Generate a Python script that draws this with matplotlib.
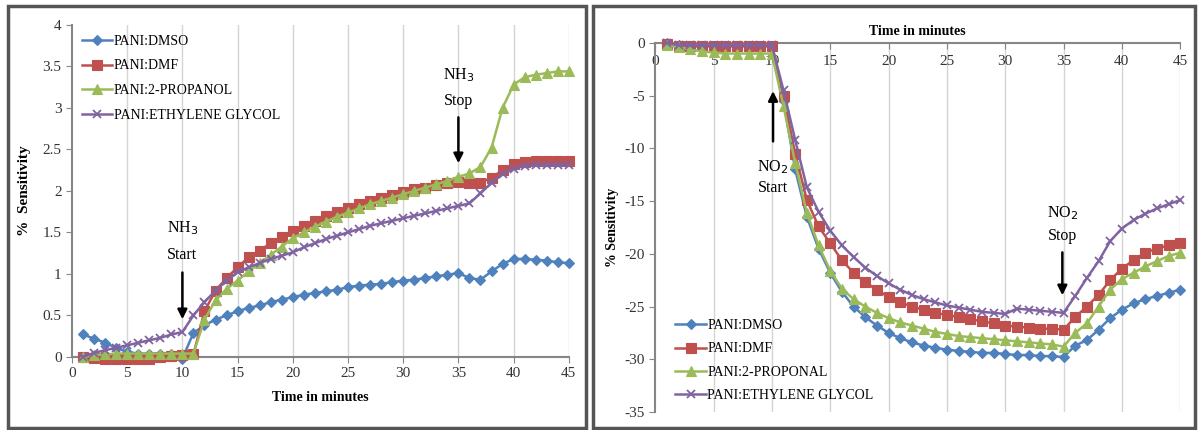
import numpy as np
import matplotlib
matplotlib.use('Agg')
import matplotlib.pyplot as plt
from matplotlib.patches import Rectangle
from matplotlib.ticker import FuncFormatter

plt.rcParams['font.family'] = ['Liberation Serif', 'DejaVu Serif']
plt.rcParams['axes.unicode_minus'] = False

minutes = list(range(1, 46))

# NH3 response (left panel)
nh3_dmso = [0.27, 0.22, 0.17, 0.11, 0.06, 0.04, 0.04, 0.04, 0.03, -0.02,
            0.29, 0.38, 0.45, 0.50, 0.55, 0.59, 0.62, 0.66, 0.69, 0.72,
            0.75, 0.77, 0.79, 0.81, 0.84, 0.86, 0.87, 0.88, 0.90, 0.92,
            0.93, 0.95, 0.97, 0.99, 1.01, 0.95, 0.93, 1.03, 1.12, 1.18,
            1.18, 1.17, 1.16, 1.14, 1.13]
nh3_dmf = [0.0, -0.01, -0.02, -0.02, -0.03, -0.03, -0.02, 0.0, 0.01, 0.02,
           0.03, 0.55, 0.80, 0.95, 1.08, 1.20, 1.28, 1.37, 1.45, 1.52,
           1.58, 1.64, 1.70, 1.75, 1.80, 1.84, 1.88, 1.92, 1.95, 1.99,
           2.02, 2.04, 2.07, 2.09, 2.11, 2.10, 2.10, 2.16, 2.25, 2.32,
           2.35, 2.36, 2.36, 2.36, 2.36]
nh3_propanol = [0.0, 0.02, 0.03, 0.04, 0.04, 0.04, 0.04, 0.04, 0.04, 0.04,
                0.04, 0.45, 0.68, 0.82, 0.92, 1.03, 1.13, 1.23, 1.33, 1.43,
                1.50, 1.57, 1.63, 1.69, 1.74, 1.79, 1.84, 1.88, 1.92, 1.96,
                2.00, 2.04, 2.08, 2.12, 2.17, 2.21, 2.29, 2.52, 3.00, 3.28,
                3.37, 3.40, 3.42, 3.44, 3.44]
nh3_glycol = [0.0, 0.05, 0.08, 0.11, 0.14, 0.17, 0.20, 0.23, 0.27, 0.30,
              0.50, 0.66, 0.80, 0.92, 1.02, 1.08, 1.13, 1.18, 1.22, 1.26,
              1.32, 1.37, 1.42, 1.46, 1.50, 1.54, 1.58, 1.61, 1.64, 1.67,
              1.70, 1.73, 1.76, 1.79, 1.82, 1.85, 1.97, 2.10, 2.20, 2.27,
              2.30, 2.31, 2.31, 2.31, 2.31]

# NO2 response (right panel)
no2_dmso = [0.0, -0.2, -0.3, -0.3, -0.3, -0.3, -0.3, -0.3, -0.3, -0.3,
            -5.5, -12.0, -16.5, -19.5, -21.8, -23.6, -25.0, -26.0, -26.8, -27.5,
            -28.0, -28.4, -28.7, -28.9, -29.1, -29.2, -29.3, -29.4, -29.4, -29.5,
            -29.6, -29.6, -29.7, -29.7, -29.8, -28.7, -28.2, -27.2, -26.1, -25.3,
            -24.7, -24.3, -24.0, -23.7, -23.4]
no2_dmf = [-0.1, -0.3, -0.3, -0.3, -0.3, -0.3, -0.3, -0.3, -0.3, -0.3,
           -5.0, -10.5, -14.9, -17.4, -19.0, -20.6, -21.8, -22.7, -23.4, -24.1,
           -24.6, -25.0, -25.3, -25.6, -25.8, -26.0, -26.2, -26.4, -26.6, -26.8,
           -26.9, -27.0, -27.1, -27.1, -27.2, -26.0, -25.0, -23.9, -22.5, -21.4,
           -20.6, -19.9, -19.5, -19.2, -19.0]
no2_propanol = [-0.2, -0.4, -0.6, -0.8, -0.9, -1.0, -1.0, -1.0, -1.0, -1.0,
                -6.0, -11.4, -16.1, -19.2, -21.6, -23.3, -24.3, -25.0, -25.6, -26.1,
                -26.5, -26.8, -27.1, -27.4, -27.6, -27.8, -27.9, -28.0, -28.1, -28.2,
                -28.3, -28.4, -28.5, -28.6, -28.8, -27.5, -26.6, -25.0, -23.4, -22.4,
                -21.8, -21.2, -20.7, -20.2, -19.9]
no2_glycol = [0.0, -0.2, -0.2, -0.2, -0.2, -0.2, -0.2, -0.2, -0.2, -0.2,
              -4.5, -9.2, -13.7, -16.0, -17.8, -19.2, -20.3, -21.3, -22.1, -22.8,
              -23.4, -23.9, -24.3, -24.6, -24.9, -25.1, -25.3, -25.5, -25.6, -25.7,
              -25.2, -25.3, -25.4, -25.5, -25.6, -24.0, -22.3, -20.7, -18.8, -17.6,
              -16.8, -16.2, -15.7, -15.3, -14.9]

labels_nh3 = ['PANI:DMSO', 'PANI:DMF', 'PANI:2-PROPANOL', 'PANI:ETHYLENE GLYCOL']
labels_no2 = ['PANI:DMSO', 'PANI:DMF', 'PANI:2-PROPONAL', 'PANI:ETHYLENE GLYCOL']

cores = ['#4F81BD', '#C0504D', '#9BBB59', '#8064A2']
marcadores = ['D', 's', '^', 'x']
tamanhos = [5.5, 6.5, 6.5, 6]
cinza = '#868686'

fig = plt.figure(figsize=(12, 4.3), dpi=100)

# molduras dos dois paineis
fig.add_artist(Rectangle((0.007, 0.005), 0.481, 0.982, transform=fig.transFigure,
                         fill=False, edgecolor='#555555', linewidth=2.5))
fig.add_artist(Rectangle((0.494, 0.005), 0.502, 0.982, transform=fig.transFigure,
                         fill=False, edgecolor='#555555', linewidth=2.5))


def desenha_series(ax, series, labels):
    for ys, lab, c, m, ms in zip(series, labels, cores, marcadores, tamanhos):
        ax.plot(minutes, ys, color=c, marker=m, markersize=ms, linewidth=1.8,
                markeredgewidth=1.3 if m == 'x' else 0.8, label=lab, clip_on=False, zorder=3)


# ---- painel esquerdo: NH3 ----
ax1 = fig.add_axes([0.060, 0.170, 0.414, 0.772])
desenha_series(ax1, [nh3_dmso, nh3_dmf, nh3_propanol, nh3_glycol], labels_nh3)
ax1.set_xlim(0, 45)
ax1.set_ylim(0, 4)
ax1.set_xticks(range(0, 46, 5))
ax1.set_yticks(np.arange(0, 4.01, 0.5))
ax1.yaxis.set_major_formatter(FuncFormatter(lambda v, p: '%g' % v))
for x in range(5, 46, 5):
    ax1.axvline(x, color='#d4d4d4', linewidth=1, zorder=0)
for s in ['top', 'right']:
    ax1.spines[s].set_visible(False)
for s in ['left', 'bottom']:
    ax1.spines[s].set_color(cinza)
    ax1.spines[s].set_linewidth(1.5)
ax1.tick_params(colors=cinza, labelcolor='#333333', labelsize=11, length=4)
ax1.set_xlabel('Time in minutes', fontsize=10, fontweight='bold', labelpad=8)
ax1.set_ylabel('%  Sensitivity', fontsize=11, fontweight='bold', labelpad=8)
ax1.legend(loc='upper left', bbox_to_anchor=(0.0, 1.0), frameon=False, fontsize=10,
           handlelength=2.2, handletextpad=0.1, labelspacing=0.85, borderaxespad=0.3)

ax1.text(10, 1.55, 'NH$_3$', ha='center', va='center', fontsize=11.5)
ax1.text(10, 1.23, 'Start', ha='center', va='center', fontsize=11.5)
ax1.annotate('', xy=(10, 0.42), xytext=(10, 1.05),
             arrowprops=dict(arrowstyle='-|>', color='black', linewidth=1.8, mutation_scale=14))
ax1.text(35, 3.4, 'NH$_3$', ha='center', va='center', fontsize=11.5)
ax1.text(35, 3.08, 'Stop', ha='center', va='center', fontsize=11.5)
ax1.annotate('', xy=(35, 2.3), xytext=(35, 2.92),
             arrowprops=dict(arrowstyle='-|>', color='black', linewidth=1.8, mutation_scale=14))

# ---- painel direito: NO2 ----
ax2 = fig.add_axes([0.546, 0.042, 0.4375, 0.858])
desenha_series(ax2, [no2_dmso, no2_dmf, no2_propanol, no2_glycol], labels_no2)
ax2.set_xlim(0, 45)
ax2.set_ylim(-35, 0)
ax2.set_xticks(range(0, 46, 5))
ax2.set_yticks(range(-35, 1, 5))
for x in range(5, 46, 5):
    ax2.axvline(x, color='#d4d4d4', linewidth=1, zorder=0)
ax2.xaxis.tick_top()
ax2.xaxis.set_label_position('top')
for s in ['bottom', 'right']:
    ax2.spines[s].set_visible(False)
for s in ['left', 'top']:
    ax2.spines[s].set_color(cinza)
    ax2.spines[s].set_linewidth(1.5)
ax2.tick_params(colors=cinza, labelcolor='#333333', labelsize=11, length=4)
ax2.tick_params(axis='x', direction='in', pad=-18, length=4)
ax2.set_xlabel('Time in minutes', fontsize=10, fontweight='bold', labelpad=6)
ax2.set_ylabel('% Sensitivity', fontsize=10, fontweight='bold', labelpad=4)
ax2.legend(loc='lower left', bbox_to_anchor=(0.02, 0.0), frameon=False, fontsize=10,
           handlelength=2.2, handletextpad=0.1, labelspacing=0.75, borderaxespad=0.3)

ax2.annotate('', xy=(10.1, -4.3), xytext=(10.1, -9.6),
             arrowprops=dict(arrowstyle='-|>', color='black', linewidth=1.8, mutation_scale=14))
ax2.text(10.1, -11.8, 'NO$_2$', ha='center', va='center', fontsize=11.5)
ax2.text(10.1, -13.8, 'Start', ha='center', va='center', fontsize=11.5)
ax2.text(34.9, -16.1, 'NO$_2$', ha='center', va='center', fontsize=11.5)
ax2.text(34.9, -18.3, 'Stop', ha='center', va='center', fontsize=11.5)
ax2.annotate('', xy=(34.9, -24.2), xytext=(34.9, -19.6),
             arrowprops=dict(arrowstyle='-|>', color='black', linewidth=1.8, mutation_scale=14))

plt.savefig('out.png', dpi=100)
plt.close()
